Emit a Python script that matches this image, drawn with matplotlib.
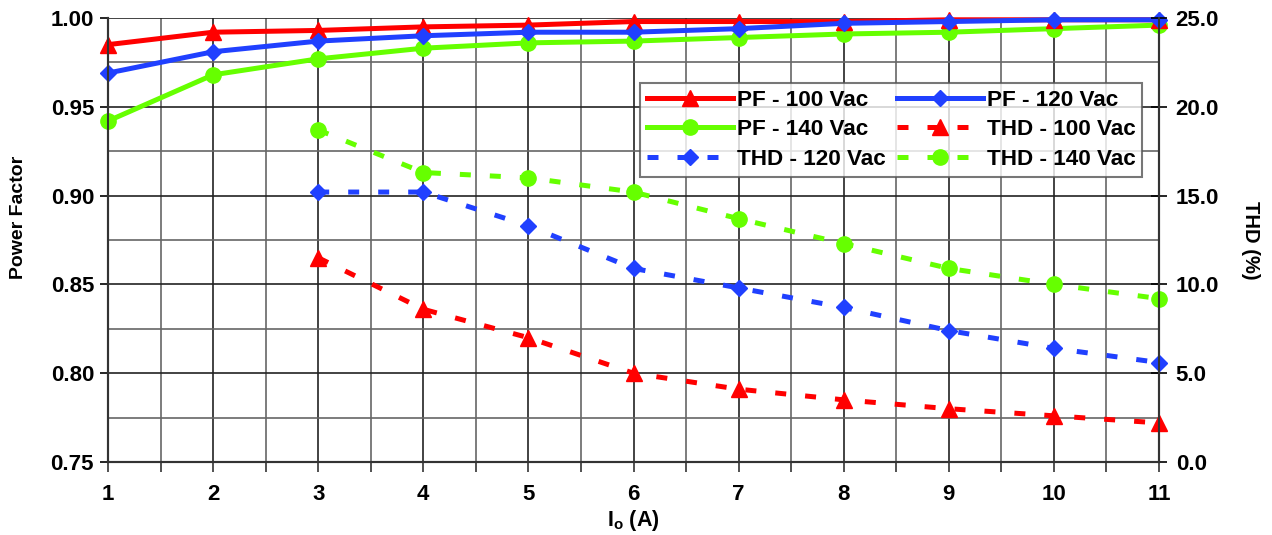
import numpy as np
import matplotlib
matplotlib.use("Agg")
import matplotlib.pyplot as plt
from matplotlib.ticker import FormatStrFormatter

plt.rcParams['font.family'] = ['Liberation Sans', 'DejaVu Sans']
plt.rcParams['font.weight'] = 'bold'
plt.rcParams['mathtext.fontset'] = 'custom'
plt.rcParams['mathtext.rm'] = 'Liberation Sans:bold'
plt.rcParams['mathtext.bf'] = 'Liberation Sans:bold'

io_pf = [1, 2, 3, 4, 5, 6, 7, 8, 9, 10, 11]
pf_100 = [0.985, 0.992, 0.993, 0.995, 0.996, 0.998, 0.998, 0.998, 0.999, 0.999, 0.999]
pf_120 = [0.969, 0.981, 0.987, 0.990, 0.992, 0.992, 0.994, 0.997, 0.998, 0.999, 0.999]
pf_140 = [0.942, 0.968, 0.977, 0.983, 0.986, 0.987, 0.989, 0.991, 0.992, 0.994, 0.996]

io_thd = [3, 4, 5, 6, 7, 8, 9, 10, 11]
thd_100 = [11.5, 8.6, 7.0, 5.0, 4.1, 3.5, 3.0, 2.6, 2.2]
thd_120 = [15.2, 15.2, 13.3, 10.9, 9.8, 8.7, 7.4, 6.4, 5.6]
thd_140 = [18.7, 16.3, 16.0, 15.2, 13.7, 12.3, 10.9, 10.0, 9.2]

RED = '#ff0000'
BLUE = '#2040ff'
GREEN = '#66ff00'

fig = plt.figure(figsize=(12.72, 5.35), dpi=100)
ax = fig.add_axes([108/1272, 1-462/535, (1159-108)/1272, (462-18)/535])
ax2 = ax.twinx()

lw = 3.6
dash = (2.2, 3.8)
h1, = ax.plot(io_pf, pf_100, color=RED, lw=lw, marker='^', ms=11, label='PF - 100 Vac', clip_on=False, zorder=5)
h2, = ax.plot(io_pf, pf_120, color=BLUE, lw=lw, marker='D', ms=8.5, label='PF - 120 Vac', clip_on=False, zorder=5)
h3, = ax.plot(io_pf, pf_140, color=GREEN, lw=lw, marker='o', ms=11, label='PF - 140 Vac', clip_on=False, zorder=4)
h4, = ax2.plot(io_thd, thd_100, color=RED, lw=lw, ls=(0, dash), marker='^', ms=11, label='THD - 100 Vac', clip_on=False)
h5, = ax2.plot(io_thd, thd_120, color=BLUE, lw=lw, ls=(0, dash), marker='D', ms=8.5, label='THD - 120 Vac', clip_on=False)
h6, = ax2.plot(io_thd, thd_140, color=GREEN, lw=lw, ls=(0, dash), marker='o', ms=11, label='THD - 140 Vac', clip_on=False)

ax.set_xlim(1, 11)
ax.set_ylim(0.75, 1.00)
ax2.set_ylim(0, 25)

ax.set_xticks(np.arange(1, 12, 1))
ax.set_xticks(np.arange(1, 11.01, 0.5), minor=True)
ax.set_yticks(np.arange(0.75, 1.001, 0.05))
ax.set_yticks(np.arange(0.75, 1.001, 0.025), minor=True)
ax.yaxis.set_major_formatter(FormatStrFormatter('%.2f'))
ax2.set_yticks(np.arange(0, 25.01, 5))
ax2.yaxis.set_major_formatter(FormatStrFormatter('%.1f'))

ax.grid(True, which='major', color='#222222', lw=1.2)
ax.grid(True, which='minor', color='#666666', lw=1.2)
ax.set_axisbelow(True)

ax.tick_params(axis='x', which='both', direction='out', length=7, width=1.2, color='#333333',
               labelsize=16, pad=9)
ax.tick_params(axis='y', which='major', direction='out', length=6, width=1.2, labelsize=16, pad=4)
ax.tick_params(axis='y', which='minor', length=0)
ax2.tick_params(axis='y', direction='inout', length=12, width=1.2, labelsize=16, pad=6)

for s in ['left', 'bottom', 'right']:
    ax.spines[s].set_color('#333333')
    ax.spines[s].set_linewidth(1.5)
    ax2.spines[s].set_color('#333333')
    ax2.spines[s].set_linewidth(1.5)
ax.spines['top'].set_visible(False)
ax2.spines['top'].set_visible(False)

ax.set_ylabel('Power Factor', fontsize=14, fontweight='bold', va='center')
ax.yaxis.set_label_coords(-0.0856, 0.552)
ax2.set_ylabel('THD (%)', fontsize=14.5, fontweight='bold', rotation=-90, va='center')
ax2.yaxis.set_label_coords(1.0866, 0.5)
ax.set_xlabel(r'I$_\mathregular{o}$ (A)', fontsize=15.5, fontweight='bold', labelpad=2)

handles = [h1, h3, h5, h2, h4, h6]
leg = ax2.legend(handles=handles, ncol=2, loc='upper left', bbox_to_anchor=(532/1051, 1-65/444),
                 fontsize=16.2, frameon=True, fancybox=False, edgecolor='#555555',
                 handlelength=3.85, handletextpad=0.15, columnspacing=0.5, labelspacing=0.38,
                 borderpad=0.3, borderaxespad=0)
leg.get_frame().set_linewidth(1.5)
leg.set_zorder(10)

fig.savefig('out.png', dpi=100)
